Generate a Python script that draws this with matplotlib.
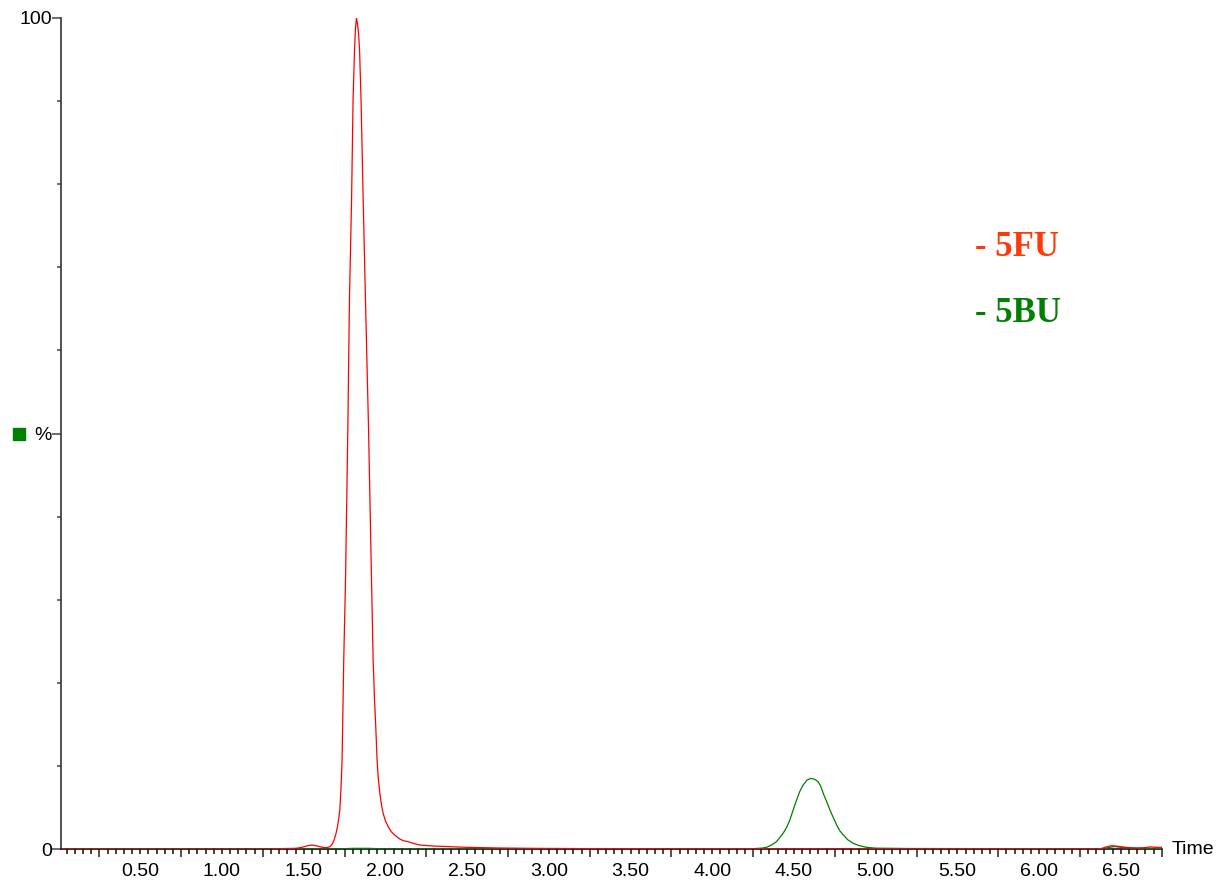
import matplotlib
matplotlib.use("Agg")
import matplotlib.pyplot as plt
from matplotlib.ticker import FixedLocator, FuncFormatter
from matplotlib.font_manager import FontProperties

# ---- data (time in min, intensity in %) ----
fu_time = [0.015, 0.50, 1.00, 1.30, 1.36, 1.45, 1.49, 1.52, 1.548, 1.58, 1.61, 1.629,
           1.645, 1.660, 1.675, 1.686, 1.697, 1.707, 1.714, 1.721, 1.728, 1.735, 1.745,
           1.756, 1.770, 1.780, 1.793, 1.802, 1.811, 1.817, 1.823, 1.830, 1.836, 1.842,
           1.851, 1.864, 1.878, 1.897, 1.915, 1.925, 1.933, 1.941, 1.949, 1.957, 1.966,
           1.976, 1.986, 2.000, 2.017, 2.035, 2.050, 2.068, 2.088, 2.110, 2.139, 2.170,
           2.211, 2.29, 2.40, 2.50, 2.70, 2.90, 3.20, 3.60, 4.00, 4.50, 5.00, 5.50, 6.00,
           6.35, 6.38, 6.41, 6.444, 6.48, 6.52, 6.56, 6.60, 6.64, 6.68, 6.72, 6.75]
fu_int = [0.0, 0.0, 0.0, 0.0, 0.05, 0.08, 0.2, 0.38, 0.48, 0.38, 0.22, 0.16,
          0.18, 0.28, 0.6, 1.08, 1.8, 2.7, 3.6, 4.7, 7.2, 10.7, 22.7,
          32.4, 50.4, 66.1, 78.2, 90.1, 96.1, 98.8, 100.0, 99.2, 98.0, 96.1,
          90.1, 78.1, 66.1, 50.4, 32.4, 22.7, 18.2, 14.7, 10.7, 8.4, 6.7,
          5.3, 4.3, 3.4, 2.7, 2.1, 1.8, 1.5, 1.2, 1.0, 0.88, 0.68,
          0.48, 0.36, 0.27, 0.2, 0.12, 0.08, 0.05, 0.04, 0.03, 0.03, 0.03, 0.03, 0.02,
          0.02, 0.05, 0.25, 0.4, 0.33, 0.22, 0.15, 0.12, 0.15, 0.25, 0.2, 0.2]

bu_time = [0.015, 1.00, 1.70, 1.80, 1.90, 2.00, 3.00, 4.00, 4.25, 4.30, 4.332, 4.36,
           4.393, 4.41, 4.434, 4.455, 4.475, 4.495, 4.516, 4.535, 4.556, 4.58, 4.603,
           4.625, 4.648, 4.665, 4.679, 4.70, 4.720, 4.74, 4.761, 4.78, 4.801, 4.83,
           4.862, 4.90, 4.944, 5.00, 5.20, 5.50, 6.00, 6.38, 6.42, 6.46, 6.50, 6.56,
           6.65, 6.75]
bu_int = [0.0, 0.0, 0.0, 0.08, 0.08, 0.0, 0.0, 0.0, 0.04, 0.1, 0.2, 0.45,
          0.88, 1.3, 1.9, 2.6, 3.5, 4.7, 5.9, 6.9, 7.7, 8.3, 8.5,
          8.4, 8.1, 7.5, 6.7, 5.7, 4.7, 3.8, 2.9, 2.2, 1.7, 1.1,
          0.69, 0.4, 0.2, 0.1, 0.06, 0.05, 0.02, 0.0, 0.15, 0.3, 0.2, 0.1,
          0.08, 0.08]

x_labels = ["0.50", "1.00", "1.50", "2.00", "2.50", "3.00", "3.50",
            "4.00", "4.50", "5.00", "5.50", "6.00", "6.50"]
y_major = [0, 50, 100]
y_major_labels = ["0", "%", "100"]
y_minor = [10, 20, 30, 40, 60, 70, 80, 90]
legend_names = ["- 5FU", "- 5BU"]

# ---- figure ----
fig = plt.figure(figsize=(12.22, 8.85), dpi=100)
ax = fig.add_axes([61 / 1222, 36 / 885, 1100.7 / 1222, 831 / 885])

ax.plot(bu_time, bu_int, color="#008000", lw=0.9, zorder=3)
ax.plot(fu_time, fu_int, color="#ff0000", lw=0.9, zorder=4)

ax.set_xlim(0.015, 6.75)
ax.set_ylim(0, 100)

for s in ["top", "right"]:
    ax.spines[s].set_visible(False)
ax.spines["left"].set_color("#333333")
ax.spines["left"].set_linewidth(1.2)
ax.spines["bottom"].set_color("#111111")
ax.spines["bottom"].set_linewidth(1.2)

tick_font = dict(family=["Liberation Sans", "DejaVu Sans"], size=14)

# x axis: long ticks at 0.25 + 0.5k, minor ticks every 0.05, labels at 0.5k
label_pos = [float(v) for v in x_labels]
long_ticks = [p - 0.25 for p in label_pos] + [label_pos[-1] + 0.25]
minor_ticks = [round(0.05 * k, 2) for k in range(1, 136)]
ax.xaxis.set_major_locator(FixedLocator(long_ticks))
ax.xaxis.set_major_formatter(FuncFormatter(lambda v, p: ""))
ax.xaxis.set_minor_locator(FixedLocator(minor_ticks))
lab_map = {round(p, 2): t for p, t in zip(label_pos, x_labels)}
ax.xaxis.set_minor_formatter(FuncFormatter(lambda v, p: lab_map.get(round(v, 2), "")))
ax.tick_params(axis="x", which="major", length=6, width=1.2, color="#333333", direction="out")
ax.tick_params(axis="x", which="minor", length=3.3, width=1.2, color="#222222",
               direction="out", pad=6.7)
for lab in ax.xaxis.get_minorticklabels():
    lab.set_fontproperties(FontProperties(**tick_font))

# y axis
ax.yaxis.set_major_locator(FixedLocator(y_major))
ax.yaxis.set_major_formatter(FuncFormatter(lambda v, p: y_major_labels[y_major.index(int(round(v)))]))
ax.yaxis.set_minor_locator(FixedLocator(y_minor))
ax.tick_params(axis="y", which="major", length=6.5, width=1.1, color="#444444", pad=0)
ax.tick_params(axis="y", which="minor", length=3.2, width=1.1, color="#444444")
for lab in ax.yaxis.get_majorticklabels():
    lab.set_fontproperties(FontProperties(**tick_font))

# green square marker next to "%"
ax.plot([-0.038], [50], marker="s", markersize=8.5, color="#008000",
        transform=ax.get_yaxis_transform(), clip_on=False)

# "Time" label at right end of x axis
ax.text(1.009, 0.0, "Time", transform=ax.transAxes, ha="left", va="center",
        fontfamily=["Liberation Sans", "DejaVu Sans"], fontsize=14)

# legend labels
serif = ["Liberation Serif", "DejaVu Serif"]
fig.text(975 / 1222, 1 - 248 / 885, legend_names[0], color="#ff3a0a", fontsize=25,
         fontweight="bold", fontfamily=serif, ha="left", va="center")
fig.text(975 / 1222, 1 - 314 / 885, legend_names[1], color="#008000", fontsize=25,
         fontweight="bold", fontfamily=serif, ha="left", va="center")

fig.savefig("out.png", dpi=100)
